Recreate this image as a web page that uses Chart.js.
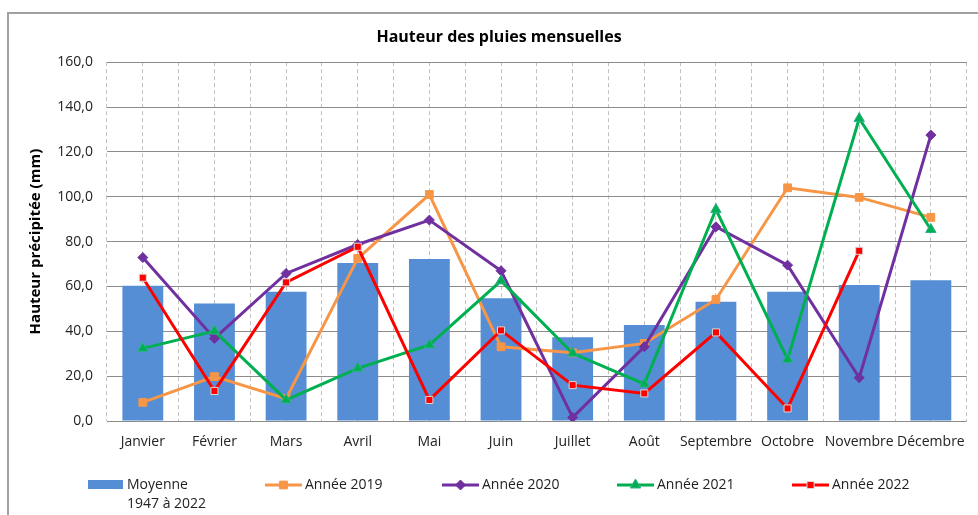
<!DOCTYPE html>
<html>
<head>
<meta charset="utf-8">
<script src="https://cdn.jsdelivr.net/npm/chart.js"></script>
<style>
  html, body { margin: 0; padding: 0; background: #fff; }
  #wrap { position: relative; width: 978px; height: 515px; }
</style>
</head>
<body>
<div id="wrap"><canvas id="pluies" width="978" height="515"></canvas></div>
<script>
const labels = ['Janvier', 'Février', 'Mars', 'Avril', 'Mai', 'Juin', 'Juillet', 'Août', 'Septembre', 'Octobre', 'Novembre', 'Décembre'];

const moyenne = [60.3, 52.4, 57.6, 70.5, 72.2, 54.7, 37.4, 42.8, 53.2, 57.6, 60.6, 62.8];
const annee2019 = [8.3, 19.8, 10.0, 72.5, 101.0, 33.1, 30.4, 34.6, 54.2, 104.0, 99.7, 90.8];
const annee2020 = [72.9, 36.8, 65.8, 78.7, 89.6, 67.0, 1.6, 33.1, 86.6, 69.5, 19.3, 127.5];
const annee2021 = [32.4, 40.1, 9.4, 23.5, 33.9, 62.5, 30.2, 16.5, 94.3, 27.5, 134.9, 85.4];
const annee2022 = [63.9, 13.4, 61.8, 77.7, 9.4, 40.4, 16.0, 12.3, 39.5, 5.6, 75.9, null];

const FONT = '"Open Sans", sans-serif';

// cadre gris autour du graphique
const framePlugin = {
    id: 'frame',
    beforeDraw(chart) {
        const ctx = chart.ctx;
        ctx.save();
        ctx.fillStyle = '#fff';
        ctx.fillRect(0, 0, chart.width, chart.height);
        ctx.strokeStyle = '#a0a0a0';
        ctx.lineWidth = 2;
        ctx.strokeRect(8, 13, 1000, 600);
        ctx.restore();
    }
};

// légende dessinée à la main (libellé sur deux lignes pour la moyenne)
const legendPlugin = {
    id: 'customLegend',
    afterDraw(chart) {
        const ctx = chart.ctx;
        const y = 485;
        const xs = [88, 265, 442, 617, 792];
        ctx.save();
        ctx.font = '14px ' + FONT;
        ctx.textBaseline = 'middle';
        ctx.textAlign = 'left';
        chart.data.datasets.forEach((ds, i) => {
            const x = xs[i];
            if (ds.type === 'bar') {
                ctx.fillStyle = ds.backgroundColor;
                ctx.fillRect(x, y - 5, 35, 9);
                ctx.fillStyle = '#222';
                ctx.fillText('Moyenne', x + 39, y);
                ctx.fillText('1947 à 2022', x + 39, y + 19);
            } else {
                ctx.strokeStyle = ds.borderColor;
                ctx.lineWidth = ds.borderWidth;
                ctx.beginPath();
                ctx.moveTo(x, y);
                ctx.lineTo(x + 37, y);
                ctx.stroke();
                ctx.fillStyle = ds.pointBackgroundColor;
                ctx.strokeStyle = ds.pointBorderColor;
                ctx.lineWidth = ds.pointBorderWidth;
                Chart.helpers.drawPoint(ctx, {
                    pointStyle: ds.pointStyle,
                    radius: ds.pointRadius,
                    rotation: 0,
                    borderWidth: ds.pointBorderWidth
                }, x + 18.5, y);
                ctx.fillStyle = '#222';
                ctx.fillText(ds.label, x + 40, y);
            }
        });
        ctx.restore();
    }
};

function lineSet(label, data, color, style, radius, border, order) {
    return {
        type: 'line',
        label: label,
        data: data,
        borderColor: color,
        borderWidth: 3,
        pointStyle: style,
        pointRadius: radius,
        pointBackgroundColor: color,
        pointBorderColor: border,
        pointBorderWidth: 1,
        tension: 0,
        spanGaps: false,
        order: order
    };
}

const ctx = document.getElementById('pluies').getContext('2d');
new Chart(ctx, {
    data: {
        labels: labels,
        datasets: [
            {
                type: 'bar',
                label: 'Moyenne 1947 à 2022',
                data: moyenne,
                backgroundColor: '#558ED5',
                borderWidth: 0,
                barPercentage: 0.57,
                categoryPercentage: 1,
                order: 10
            },
            lineSet('Année 2019', annee2019, '#F79646', 'rect', 5.5, '#F79646', 4),
            lineSet('Année 2020', annee2020, '#7030A0', 'rectRot', 5, '#7030A0', 3),
            lineSet('Année 2021', annee2021, '#00B050', 'triangle', 6, '#2FAF8F', 2),
            lineSet('Année 2022', annee2022, '#FF0000', 'rect', 5, '#D9D9D9', 1)
        ]
    },
    options: {
        responsive: false,
        animation: false,
        layout: {
            padding: { left: 27, right: 7, top: 0, bottom: 64 }
        },
        plugins: {
            legend: { display: false },
            tooltip: { enabled: false },
            title: {
                display: true,
                text: 'Hauteur des pluies mensuelles',
                color: '#000',
                font: { family: FONT, size: 16, weight: 'bold' },
                padding: { top: 28, bottom: 15 }
            }
        },
        scales: {
            x: {
                offset: true,
                grid: {
                    offset: false,
                    color: '#c0c0c0',
                    drawTicks: false
                },
                border: { display: false, dash: [4, 3] },
                ticks: {
                    color: '#222',
                    font: { family: FONT, size: 14 },
                    padding: 13,
                    maxRotation: 0,
                    autoSkip: false
                },
                afterFit: s => { s.height = 30; }
            },
            xb: {
                position: 'bottom',
                offset: true,
                grid: {
                    offset: true,
                    color: '#c0c0c0',
                    drawTicks: false
                },
                border: { display: false, dash: [4, 3] },
                ticks: { display: false },
                afterFit: s => { s.height = 0; }
            },
            y: {
                min: 0,
                max: 160,
                grid: {
                    color: '#8c8c8c',
                    drawTicks: false
                },
                border: { display: false },
                ticks: {
                    stepSize: 20,
                    color: '#222',
                    font: { family: FONT, size: 14 },
                    padding: 14,
                    callback: v => v.toFixed(1).replace('.', ',')
                },
                title: {
                    display: true,
                    text: 'Hauteur précipitée (mm)',
                    color: '#000',
                    font: { family: FONT, size: 15, weight: 'bold' },
                    padding: { top: 0, bottom: 0 }
                },
                afterFit: s => { s.width = 80; }
            }
        }
    },
    plugins: [framePlugin, legendPlugin]
});
</script>
</body>
</html>
